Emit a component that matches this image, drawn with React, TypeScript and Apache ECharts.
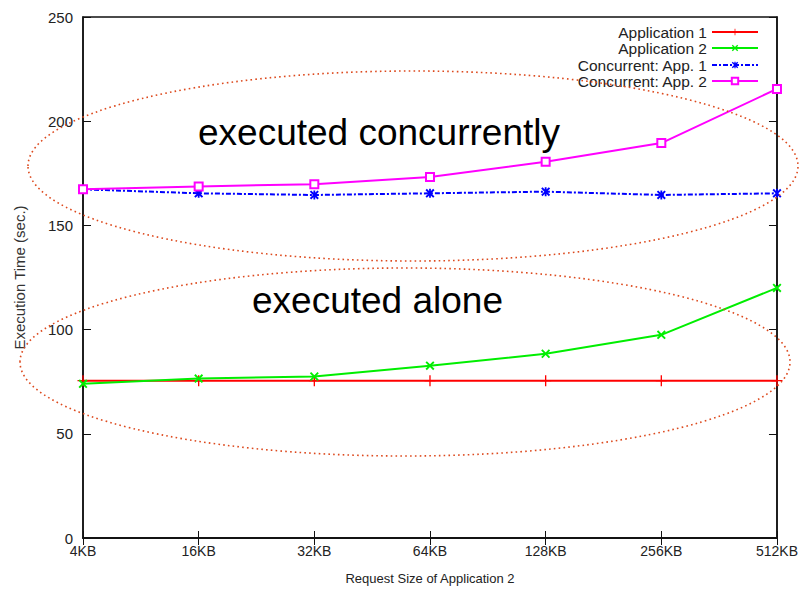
import React, { useEffect, useRef } from "react";
import * as echarts from "echarts";

const categories = ["4KB", "16KB", "32KB", "64KB", "128KB", "256KB", "512KB"];
const app1 = [75.5, 75.5, 75.5, 75.5, 75.5, 75.5, 75.5];
const app2 = [74, 76.5, 77.5, 82.7, 88.4, 97.5, 120];
const concApp1 = [167.3, 165.4, 164.6, 165.4, 166.2, 164.6, 165.4];
const concApp2 = [167.3, 168.7, 169.8, 173.2, 180.5, 189.5, 215.5];
const yTicks = { min: 0, max: 250, interval: 50 };

const FONT = "'Liberation Sans', Arial, Helvetica, sans-serif";

const PLUS = "path://M4.4,0H5.6V4.4H10V5.6H5.6V10H4.4V5.6H0V4.4H4.4Z";
const CROSS = "path://M0,1.5L1.5,0L5,3.5L8.5,0L10,1.5L6.5,5L10,8.5L8.5,10L5,6.5L1.5,10L0,8.5L3.5,5Z";
const STAR = "path://M0,1.5L1.5,0L5,3.5L8.5,0L10,1.5L6.5,5L10,8.5L8.5,10L5,6.5L1.5,10L0,8.5L3.5,5Z M4,0H6V10H4Z";

export default function App() {
  const ref = useRef<HTMLDivElement>(null);
  useEffect(() => {
    if (!ref.current) return;
    const chart = echarts.init(ref.current, undefined, { renderer: "svg" });
    const names = ["Application 1", "Application 2", "Concurrent: App. 1", "Concurrent: App. 2"];
    const legendTops = [24, 40, 57, 73];
    const legends = names.map((n, i) => ({
      data: [n],
      right: 42,
      top: legendTops[i],
      align: "right",
      orient: "vertical",
      itemWidth: 46,
      itemHeight: 8,
      itemGap: 0,
      padding: 0,
      textStyle: { fontFamily: FONT, fontSize: 15.5, color: "#222" },
    }));
    chart.setOption({
      animation: false,
      backgroundColor: "#fff",
      legend: legends,
      grid: {
        left: 83,
        right: 23,
        top: 17,
        bottom: 50,
        show: true,
        borderColor: "#111",
        borderWidth: 1.5,
      },
      xAxis: [
        {
          type: "category",
          data: categories,
          boundaryGap: false,
          name: "Request Size of Application 2",
          nameLocation: "middle",
          nameGap: 34,
          nameTextStyle: { fontFamily: FONT, fontSize: 13, color: "#222" },
          axisLine: { lineStyle: { color: "#111", width: 1.5 } },
          axisTick: { inside: true, length: 7, lineStyle: { color: "#111" } },
          axisLabel: { fontFamily: FONT, fontSize: 14, color: "#222", margin: 6 },
          splitLine: { show: false },
        },
        {
          type: "category",
          data: categories,
          boundaryGap: false,
          position: "top",
          axisLine: { lineStyle: { color: "#111", width: 1.5 } },
          axisTick: { inside: true, length: 7, lineStyle: { color: "#111" } },
          axisLabel: { show: false },
          splitLine: { show: false },
        },
      ],
      yAxis: [
        {
          type: "value",
          ...yTicks,
          name: "Execution Time (sec.)",
          nameLocation: "middle",
          nameGap: 56,
          nameTextStyle: { fontFamily: FONT, fontSize: 15, color: "#333" },
          axisLine: { show: true, lineStyle: { color: "#111", width: 1.5 } },
          axisTick: { show: true, inside: true, length: 8, lineStyle: { color: "#111" } },
          axisLabel: { fontFamily: FONT, fontSize: 15, color: "#222", margin: 10 },
          splitLine: { show: false },
        },
        {
          type: "value",
          ...yTicks,
          position: "right",
          axisLine: { show: true, lineStyle: { color: "#111", width: 1.5 } },
          axisTick: { show: true, inside: true, length: 8, lineStyle: { color: "#111" } },
          axisLabel: { show: false },
          splitLine: { show: false },
        },
      ],
      series: [
        {
          name: "Application 1",
          type: "line",
          data: app1,
          symbol: PLUS,
          symbolSize: 11,
          lineStyle: { color: "#ff0000", width: 2 },
          itemStyle: { color: "#ff0000" },
        },
        {
          name: "Application 2",
          type: "line",
          data: app2,
          symbol: CROSS,
          symbolSize: 9,
          lineStyle: { color: "#00ee00", width: 2 },
          itemStyle: { color: "#00ee00" },
        },
        {
          name: "Concurrent: App. 1",
          type: "line",
          data: concApp1,
          symbol: STAR,
          symbolSize: 9,
          lineStyle: { color: "#0000ff", width: 2, type: [5, 2, 2, 2] },
          itemStyle: { color: "#0000ff" },
        },
        {
          name: "Concurrent: App. 2",
          type: "line",
          data: concApp2,
          symbol: "emptyRect",
          symbolSize: 8,
          lineStyle: { color: "#ff00ff", width: 2 },
          itemStyle: { color: "#ff00ff", borderWidth: 1.5 },
        },
      ],
      graphic: [
        {
          type: "ellipse",
          shape: { cx: 413, cy: 166, rx: 385, ry: 95 },
          style: { fill: "none", stroke: "#dd4a1e", lineWidth: 1.6, lineDash: [1.6, 3.2] },
          z: 10,
        },
        {
          type: "ellipse",
          shape: { cx: 405, cy: 362, rx: 385, ry: 94 },
          style: { fill: "none", stroke: "#dd4a1e", lineWidth: 1.6, lineDash: [1.6, 3.2] },
          z: 10,
        },
        {
          type: "text",
          left: 198,
          top: 114,
          style: { text: "executed concurrently", fontFamily: FONT, fontSize: 37, fill: "#000" },
          z: 10,
        },
        {
          type: "text",
          left: 252,
          top: 282,
          style: { text: "executed alone", fontFamily: FONT, fontSize: 37, fill: "#000" },
          z: 10,
        },
      ],
    });
    return () => chart.dispose();
  }, []);
  return (
    <div
      ref={ref}
      style={{ position: "fixed", left: 0, top: 0, width: 801, height: 590, background: "#fff" }}
    />
  );
}
